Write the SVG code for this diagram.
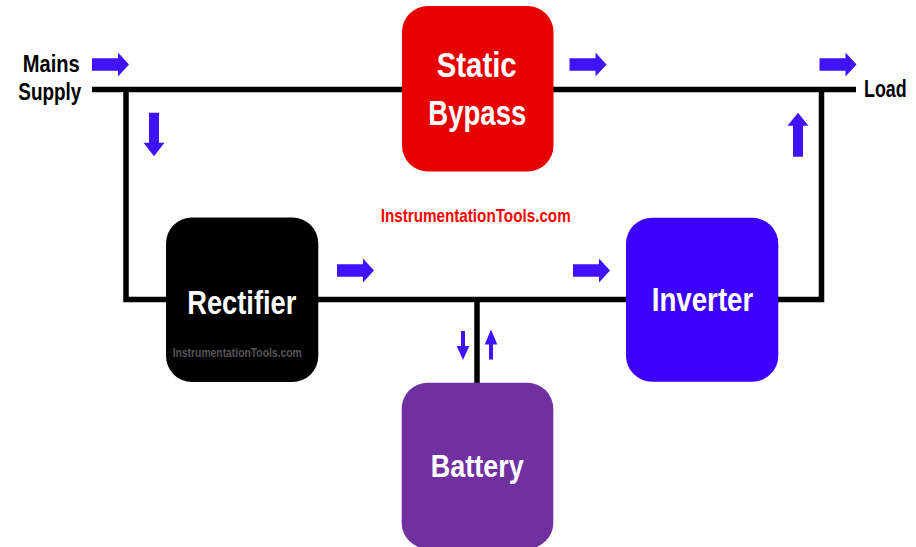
<svg xmlns="http://www.w3.org/2000/svg" width="916" height="547" viewBox="0 0 916 547">
<style>
.ln{fill:none;stroke:#000;stroke-width:5.5;stroke-linejoin:miter}
.ar{fill:#4012FF}
.bt{font-family:"Liberation Sans",Arial,sans-serif;font-weight:bold;fill:#fff}
.lb{font-family:"Liberation Sans",Arial,sans-serif;font-weight:bold;fill:#000;font-size:23.5px}
</style>
<defs>
<path id="arrR" d="M0,-6.2 H26 V-12 L37,0 L26,12 V6.2 H0 Z"/>
<path id="arrD" d="M-5,0 V30 H-10.5 L0,43.5 L10.5,30 H5 V0 Z"/>
<path id="arrU" d="M-5,0 V-31 H-10.5 L0,-44 L10.5,-31 H5 V0 Z"/>
<path id="sD" d="M-2,0 V15 H-6.3 L0,29 L6.3,15 H2 V0 Z"/>
<path id="sU" d="M-2,0 V-15 H-6.3 L0,-30 L6.3,-15 H2 V0 Z"/>
</defs>
<rect width="916" height="547" fill="#fff"/>
<g id="connectors">
<path class="ln" d="M92,89.5 H856"/>
<path class="ln" d="M126,89.5 V299.5 H821.5 V89.5"/>
<path class="ln" d="M477,299.5 V384"/>
<g class="ar">
<use href="#arrR" transform="translate(92,64.5)"/>
<use href="#arrR" transform="translate(569.5,64.5)"/>
<use href="#arrR" transform="translate(819.5,64.5)"/>
<use href="#arrR" transform="translate(337,270.5)"/>
<use href="#arrR" transform="translate(573,270.5)"/>
<use href="#arrD" transform="translate(154,112.7)"/>
<use href="#arrU" transform="translate(798,156.7)"/>
<use href="#sD" transform="translate(463,331)"/>
<use href="#sU" transform="translate(491,359.5)"/>
</g>
</g>
<g id="labels">
<text class="lb" x="22.7" y="71.7" textLength="57" lengthAdjust="spacingAndGlyphs">Mains</text>
<text class="lb" x="18.3" y="100" textLength="63" lengthAdjust="spacingAndGlyphs">Supply</text>
<text class="lb" transform="translate(864,97.3) scale(0.76,1)" x="0" y="0">Load</text>
<text x="380.7" y="221.7" textLength="190" lengthAdjust="spacingAndGlyphs" style="font-family:'Liberation Sans',Arial,sans-serif;font-weight:bold;font-size:17.5px;fill:#FF0000">InstrumentationTools.com</text>
</g>
<g id="static-bypass">
<rect x="402" y="6" width="151.5" height="165.5" rx="26" fill="#E60000"/>
<text class="bt" x="436.7" y="76.7" font-size="35" textLength="80" lengthAdjust="spacingAndGlyphs">Static</text>
<text class="bt" x="428.3" y="125" font-size="35" textLength="98" lengthAdjust="spacingAndGlyphs">Bypass</text>
</g>
<g id="rectifier">
<rect x="166" y="217.5" width="152.3" height="164.5" rx="26" fill="#000"/>
<text class="bt" x="187.3" y="314" font-size="33.5" textLength="109" lengthAdjust="spacingAndGlyphs">Rectifier</text>
<text x="172.7" y="356.7" textLength="129" lengthAdjust="spacingAndGlyphs" style="font-family:'Liberation Sans',Arial,sans-serif;font-weight:bold;font-size:12.5px;fill:#555">InstrumentationTools.com</text>
</g>
<g id="inverter">
<rect x="626" y="217.7" width="152.3" height="164" rx="26" fill="#3C00FF"/>
<text class="bt" x="651.7" y="311" font-size="33.5" textLength="101.6" lengthAdjust="spacingAndGlyphs">Inverter</text>
</g>
<g id="battery">
<rect x="401.7" y="382.7" width="151.6" height="166" rx="26" fill="#7030A0"/>
<text class="bt" x="430.7" y="476.7" font-size="31" textLength="93" lengthAdjust="spacingAndGlyphs">Battery</text>
</g>
</svg>
